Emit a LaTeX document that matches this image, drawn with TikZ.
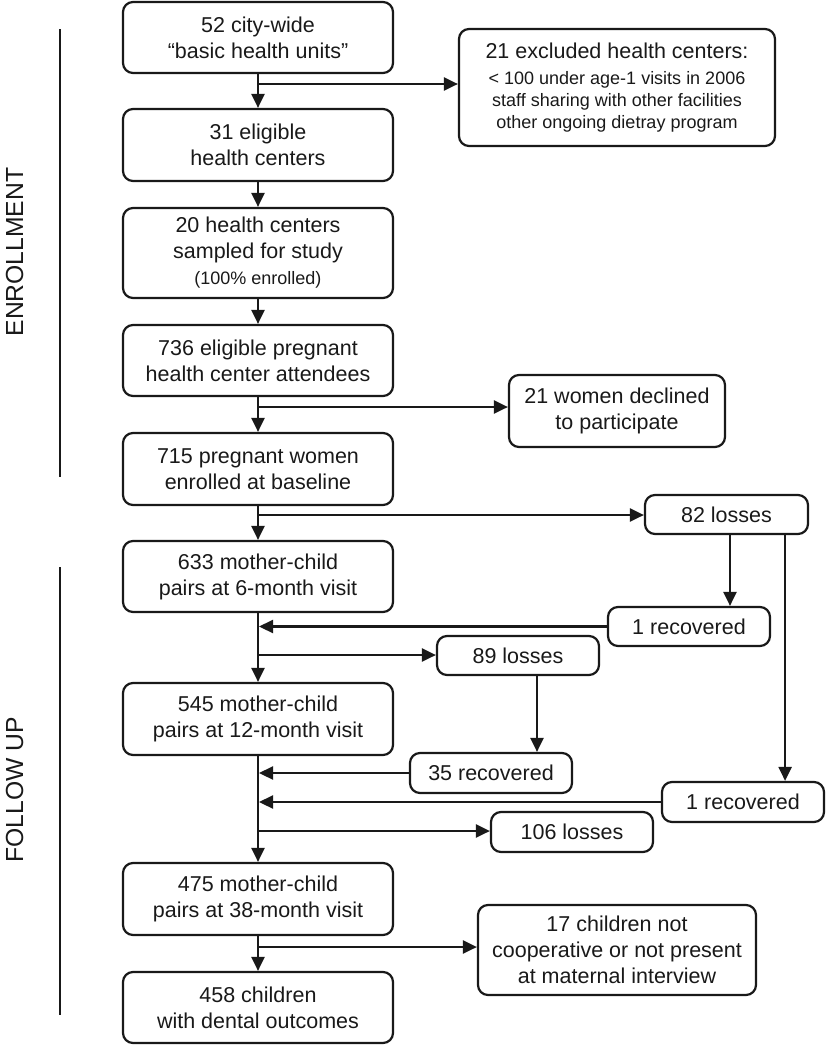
\documentclass[tikz,border=0pt]{standalone}
\usepackage{fontspec}
\setmainfont{Liberation Sans}
\usetikzlibrary{arrows.meta}
\tikzset{
  box/.style={draw=black!90, line width=2.2pt, rounded corners=10pt, align=center,
    inner sep=0pt, font=\fontsize{21.5}{26}\selectfont, text=black!90},
  mainbox/.style={box, minimum width=270pt, minimum height=72pt},
  arr/.style={line width=2.2pt, draw=black!90, -{Triangle[length=14pt,width=13pt]}},
  side/.style={rotate=90, font=\fontsize{24.7}{28}\selectfont, text=black!90},
  bracket/.style={line width=1.5pt, draw=black!90}
}
\begin{document}
\begin{tikzpicture}[x=1pt,y=-1pt]
\useasboundingbox (0,0) rectangle (825,1050);
% main column
\node[mainbox, minimum height=71pt] (b1) at (258,37.5) {52 city-wide\\“basic health units”};
\node[mainbox] (b2) at (258,145) {31 eligible\\health centers};
\node[mainbox, minimum height=90pt] (b3) at (258,253) {20 health centers\\sampled for study\\{\fontsize{18}{21}\selectfont (100\% enrolled)}};
\node[mainbox, minimum height=71pt] (b4) at (258,360.5) {736 eligible pregnant\\health center attendees};
\node[mainbox] (b5) at (258,469) {715 pregnant women\\enrolled at baseline};
\node[mainbox, minimum height=71pt] (b6) at (258,576.5) {633 mother-child\\pairs at 6-month visit};
\node[mainbox] (b7) at (258,719) {545 mother-child\\pairs at 12-month visit};
\node[mainbox] (b8) at (258,899) {475 mother-child\\pairs at 38-month visit};
\node[mainbox, minimum height=71pt] (b9) at (258,1007.5) {458 children\\with dental outcomes};
% side boxes
\node[box, minimum width=316pt, minimum height=117pt] (excl) at (617,87.5)
  {21 excluded health centers:\\[0pt]{\fontsize{18}{21.5}\selectfont < 100 under age-1 visits in 2006}\\[-4pt]{\fontsize{18}{21.5}\selectfont staff sharing with other facilities}\\[-4pt]{\fontsize{18}{21.5}\selectfont other ongoing dietray program}};
\node[box, minimum width=216pt, minimum height=72pt] (decl) at (617,411) {21 women declined\\to participate};
\node[box, minimum width=163pt, minimum height=39pt] (loss82) at (726.5,514.5) {82 losses};
\node[box, minimum width=162pt, minimum height=39pt] (rec1a) at (689,626.5) {1 recovered};
\node[box, minimum width=162pt, minimum height=39pt] (loss89) at (518,655.5) {89 losses};
\node[box, minimum width=162pt, minimum height=40pt] (rec35) at (491,773) {35 recovered};
\node[box, minimum width=162pt, minimum height=40pt] (rec1b) at (743,802) {1 recovered};
\node[box, minimum width=162pt, minimum height=40pt] (loss106) at (572,832) {106 losses};
\node[box, minimum width=278pt, minimum height=90pt] (child17) at (617,950) {17 children not\\cooperative or not present\\at maternal interview};
% side labels
\node[side] (enr) at (14.5,252) {ENROLLMENT};
\node[side] (fol) at (14.5,790) {FOLLOW UP};
\draw[bracket] (60,29) -- (60,477);
\draw[bracket] (60,567) -- (60,1015);
% spine
\draw[arr] (b1.south) -- (b2.north);
\draw[arr] (b2.south) -- (b3.north);
\draw[arr] (b3.south) -- (b4.north);
\draw[arr] (b4.south) -- (b5.north);
\draw[arr] (b5.south) -- (b6.north);
\draw[arr] (b6.south) -- (b7.north);
\draw[arr] (b7.south) -- (b8.north);
\draw[arr] (b8.south) -- (b9.north);
% branch points
\coordinate (j1) at (258,84);
\coordinate (j4) at (258,407);
\coordinate (j5) at (258,515);
\coordinate (j6) at (258,655);
\coordinate (j7) at (258,831);
\coordinate (j8) at (258,947);
\draw[arr] (j1) -- (j1 -| excl.west);
\draw[arr] (j4) -- (j4 -| decl.west);
\draw[arr] (j5) -- (j5 -| loss82.west);
\draw[arr] (j6) -- (j6 -| loss89.west);
\draw[arr] (j7) -- (j7 -| loss106.west);
\draw[arr] (j8) -- (j8 -| child17.west);
% returns
\draw[arr] (rec1a.west) -- ([xshift=1pt]rec1a.west -| b6.south);
\draw[arr] (rec35.west) -- ([xshift=1pt]rec35.west -| b7.south);
\draw[arr] (rec1b.west) -- ([xshift=1pt]rec1b.west -| b7.south);
% loss to recovered
\coordinate (l82a) at ([xshift=3.5pt]loss82.south);
\coordinate (l82b) at ([xshift=-24pt]loss82.south east);
\coordinate (l89) at ([xshift=19pt]loss89.south);
\draw[arr] (l82a) -- (l82a |- rec1a.north);
\draw[arr] (l82b) -- (l82b |- rec1b.north);
\draw[arr] (l89) -- (l89 |- rec35.north);
\end{tikzpicture}
\end{document}
